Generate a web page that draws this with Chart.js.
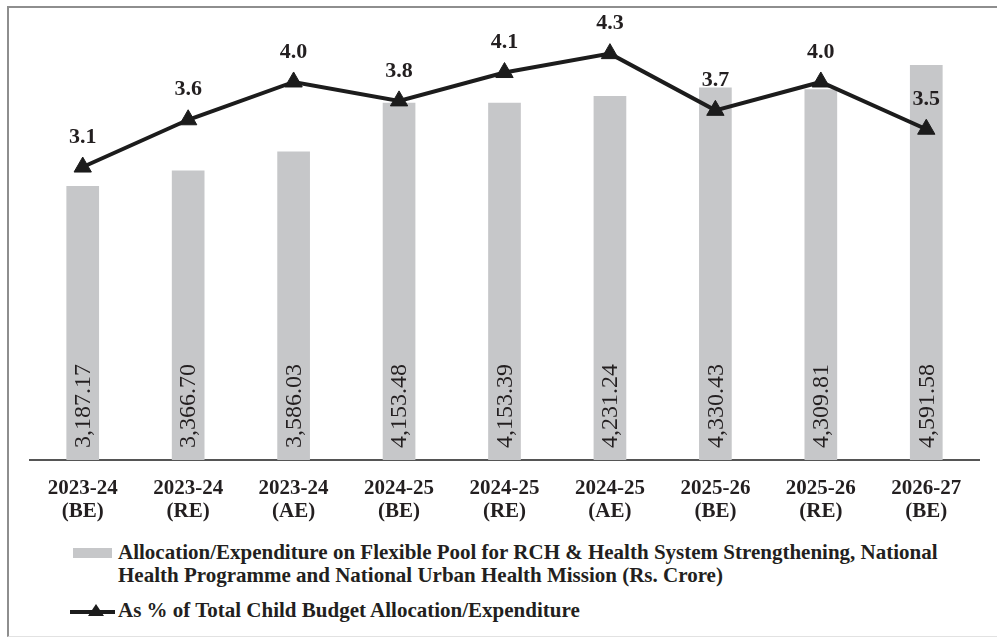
<!DOCTYPE html>
<html>
<head>
<meta charset="utf-8">
<script src="https://cdn.jsdelivr.net/npm/chart.js@4"></script>
<style>
  body { margin: 0; background: #fff; width: 997px; height: 637px; overflow: hidden; position: relative; }
  #frame { position: absolute; left: 7px; top: 6px; width: 1000px; height: 628px;
           border-left: 2px solid #8e8e8e; border-top: 2px solid #8e8e8e; border-bottom: 1px solid #e2e2e2; }
  #myChart { position: absolute; left: 0; top: 0; }
  .leg { position: absolute; font: bold 21px "Liberation Serif", "Times New Roman", serif; color: #231f20; line-height: 23px; white-space: nowrap; }
  .swatch { position: absolute; left: 73px; top: 548px; width: 39px; height: 10px; background: #c6c7c9; }
</style>
</head>
<body>
<div id="frame"></div>
<canvas id="myChart" width="997" height="530"></canvas>
<div class="swatch"></div>
<div class="leg" style="left:118px; top:541px;">Allocation/Expenditure on Flexible Pool for RCH &amp; Health System Strengthening, National<br>Health Programme and National Urban Health Mission (Rs. Crore)</div>
<svg style="position:absolute; left:68px; top:602px;" width="50" height="20">
  <line x1="2" y1="10" x2="47" y2="10" stroke="#1c1c1c" stroke-width="4"/>
  <polygon points="28,2 36,14 20,14" fill="#1c1c1c"/>
</svg>
<div class="leg" style="left:118px; top:599px;">As % of Total Child Budget Allocation/Expenditure</div>

<script>
// categories and values
var years = ["2023-24", "2023-24", "2023-24", "2024-25", "2024-25", "2024-25", "2025-26", "2025-26", "2026-27"];
var stages = ["(BE)", "(RE)", "(AE)", "(BE)", "(RE)", "(AE)", "(BE)", "(RE)", "(BE)"];
var allocation = [3187.17, 3366.70, 3586.03, 4153.48, 4153.39, 4231.24, 4330.43, 4309.81, 4591.58];
var sharePct = [3.1, 3.6, 4.0, 3.8, 4.1, 4.3, 3.7, 4.0, 3.5];

var labels = years.map(function (y, i) { return [y, stages[i]]; });

// draws the value labels (rotated ones in the bars, bold ones over the line)
var valueLabels = {
    id: 'valueLabels',
    afterDatasetsDraw: function (chart) {
        var ctx = chart.ctx;
        var bars = chart.getDatasetMeta(0).data;
        var pts = chart.getDatasetMeta(1).data;
        ctx.save();
        ctx.fillStyle = '#231f20';
        ctx.font = '24px "Liberation Serif"';
        ctx.textAlign = 'left';
        ctx.textBaseline = 'middle';
        bars.forEach(function (bar, i) {
            ctx.save();
            ctx.translate(bar.x, bar.base - 12);
            ctx.rotate(-Math.PI / 2);
            ctx.fillText(allocation[i].toLocaleString('en-US', {minimumFractionDigits: 2}), 0, 1);
            ctx.restore();
        });
        ctx.font = 'bold 22px "Liberation Serif"';
        ctx.textAlign = 'center';
        pts.forEach(function (p, i) {
            ctx.fillText(sharePct[i].toFixed(1), p.x, p.y - 30);
        });
        ctx.restore();
    }
};

var ctx = document.getElementById('myChart');
var chart = new Chart(ctx, {
    data: {
        labels: labels,
        datasets: [{
            type: 'bar',
            data: allocation,
            backgroundColor: '#c6c7c9',
            barPercentage: 0.31,
            categoryPercentage: 1,
            yAxisID: 'y',
            order: 2
        }, {
            type: 'line',
            data: sharePct,
            borderColor: '#1c1c1c',
            borderWidth: 4,
            pointStyle: 'triangle',
            pointRadius: 10,
            pointBackgroundColor: '#1c1c1c',
            pointBorderColor: '#1c1c1c',
            pointBorderWidth: 1,
            tension: 0,
            yAxisID: 'y1',
            order: 1
        }]
    },
    options: {
        responsive: false,
        animation: false,
        devicePixelRatio: 1,
        layout: { padding: { top: 30, left: 30, right: 18, bottom: 0 } },
        plugins: { legend: { display: false }, tooltip: { enabled: false } },
        scales: {
            x: {
                grid: { display: false },
                border: { display: true, color: '#555', width: 2 },
                ticks: {
                    color: '#231f20',
                    padding: 9,
                    maxRotation: 0,
                    font: { family: 'Liberation Serif', size: 21, weight: 'bold', lineHeight: 1.1 }
                },
                afterFit: function (s) { s.height = 70; }
            },
            y: { display: false, min: 0, max: 5000 },
            y1: { display: false, min: 0, max: 4.55 }
        }
    },
    plugins: [valueLabels]
});
</script>
</body>
</html>
